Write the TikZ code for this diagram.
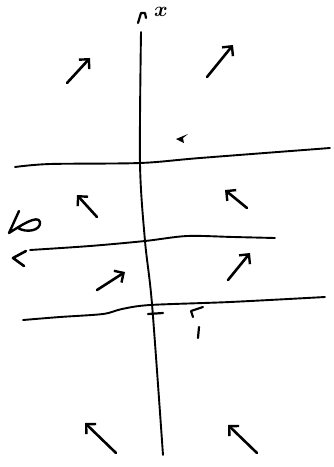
\documentclass[tikz,border=0pt]{standalone}
\usepackage{amsmath,amssymb}
\usetikzlibrary{arrows.meta}

\begin{document}
\begin{tikzpicture}[x=1pt, y=-1pt, line cap=round, line join=round,
    axisline/.style={line width=1.9pt},
    flow/.style={line width=2.6pt, -{Straight Barb[length=7pt, width=14pt, line width=2.4pt]}}]
  \useasboundingbox (0,0) rectangle (334,467);
  % vertical x-axis, slightly tilted
  \draw[axisline] plot[smooth] coordinates {(163,455) (152,304) (145,241) (140,164) (141,32)};
  \draw[line width=2.2pt] (138,23) -- (141,13) -- (145,13) -- (146,18);
  \node[font=\huge, inner sep=0pt] (xlab) at (161,12) {$\boldsymbol{x}$};
  % the three horizontal curves
  \draw[axisline] plot[smooth] coordinates {(15,167) (50,164) (140,163) (200,158) (330,148)};
  \draw[axisline] plot[smooth] coordinates {(30,250) (90,246) (145,241) (187,236) (233,237) (275,238)};
  \draw[line width=2.6pt] (26,251) -- (13,258) -- (24,266);
  \draw[axisline] plot[smooth] coordinates {(23,320) (60,317) (103,314) (122,309) (150,305) (230,302) (325,297)};
  % label on the left end
  \draw[line width=2.4pt] (19,211) -- (9,233)
    (9,233) .. controls (20,226) and (38,214) .. (40,222) .. controls (41,231) and (26,233) .. (18,228);
  % small marks
  \draw[line width=2.2pt] (148,314) -- (163,313);
  \fill (176,139) -- (188,134) -- (183,138) -- (184,143) -- cycle;
  \draw[line width=2.2pt] (193,317) -- (191,311) -- (203,307);
  \draw[line width=2.2pt] (199,327) -- (198,338);
  % direction arrows
  \draw[flow] (67,83) -- (90,58);
  \draw[flow] (207,77) -- (233,45);
  \draw[flow] (97,217) -- (77,195);
  \draw[flow] (247,208) -- (225,190);
  \draw[flow] (97,290) -- (125,272);
  \draw[flow] (228,280) -- (250,253);
  \draw[flow] (116,453) -- (85,423);
  \draw[flow] (257,453) -- (228,425);
\end{tikzpicture}
\end{document}
